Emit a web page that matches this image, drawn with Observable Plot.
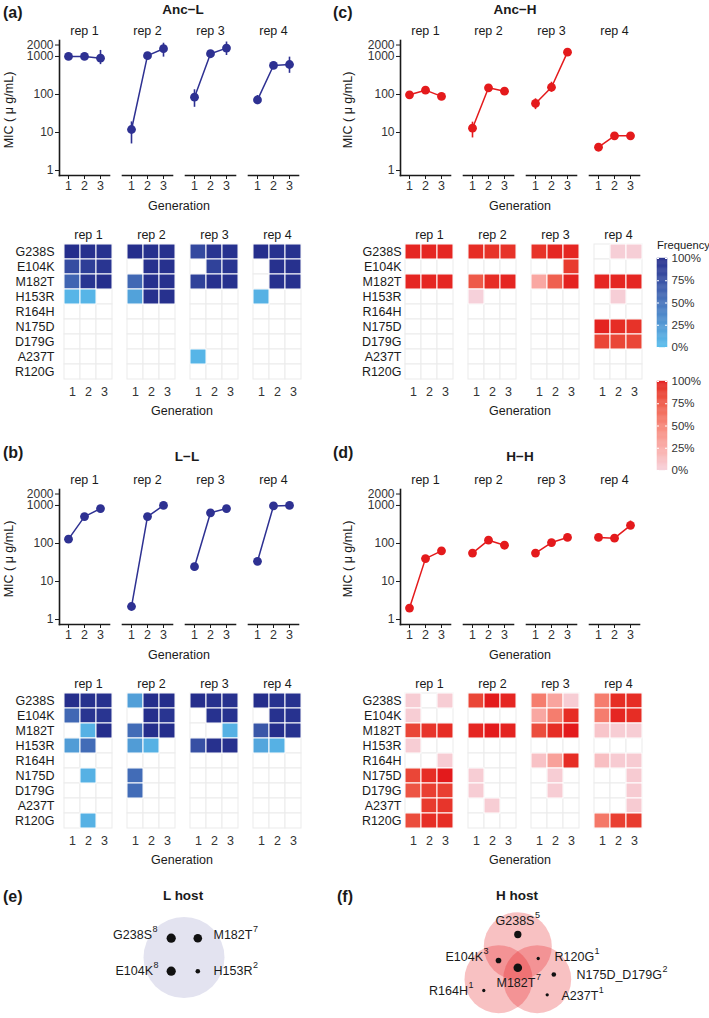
<!DOCTYPE html>
<html><head><meta charset="utf-8">
<script src="https://cdn.jsdelivr.net/npm/d3@7"></script>
<script src="https://cdn.jsdelivr.net/npm/@observablehq/plot@0.6"></script>
<style>
body{margin:0;background:#fff;}
#root{position:relative;width:709px;height:1018px;font-family:"Liberation Sans",Arial,sans-serif;color:#1a1a1a;overflow:hidden;background:#fff}
</style></head><body><div id="root"></div>
<script>
const _ = null;
const reps = ["rep 1","rep 2","rep 3","rep 4"];
const gens = [1,2,3];
const mutations = ["G238S","E104K","M182T","H153R","R164H","N175D","D179G","A237T","R120G"];

// MIC values [rep][generation]
const micAncL   = [[1000,1000,900],[12,1050,1600],[85,1180,1660],[72,580,615]];
const micAncLLo = [[_,_,610],[5,_,960],[46,_,1060],[54,470,360]];
const micAncLHi = [[_,_,1440],[19,_,2230],[133,_,2400],[94,700,960]];
const micAncH   = [[98,130,89],[13,150,122],[58,155,1300],[4.1,8.2,8.2]];
const micAncHLo = [[_,112,_],[7.2,_,_],[40,115,_],[_,_,_]];
const micAncHHi = [[_,148,_],[18.7,_,_],[77,210,_],[_,_,_]];
const micLL     = [[130,510,830],[2.2,510,1000],[24.5,640,830],[34,970,1000]];
const micLLLo   = [[_,_,_],[_,_,_],[19,_,_],[_,_,_]];
const micLLHi   = [[_,_,_],[_,_,_],[30,_,_],[_,_,_]];
const micHH     = [[2,40,64],[56,122,90],[56,106,144],[144,138,300]];
const micHHLo   = [[_,_,_],[_,_,_],[_,_,_],[_,_,235]];
const micHHHi   = [[_,_,_],[_,_,_],[_,_,_],[_,_,390]];

// mutation frequency (%) [rep][mutation][generation]; null = not detected
const freqAncL = [
 [[100,98,97],[78,88,95],[60,95,100],[5,5,_],[_,_,_],[_,_,_],[_,_,_],[_,_,_],[_,_,_]],
 [[100,98,98],[_,98,98],[58,98,98],[18,98,98],[_,_,_],[_,_,_],[_,_,_],[_,_,_],[_,_,_]],
 [[80,95,97],[_,85,95],[85,98,98],[_,_,_],[_,_,_],[_,_,_],[_,_,_],[5,_,_],[_,_,_]],
 [[100,97,97],[_,98,98],[_,98,98],[8,_,_],[_,_,_],[_,_,_],[_,_,_],[_,_,_],[_,_,_]]
];
const freqAncH = [
 [[97,97,97],[_,_,_],[97,97,97],[_,_,_],[_,_,_],[_,_,_],[_,_,_],[_,_,_],[_,_,_]],
 [[95,93,93],[_,_,_],[75,95,97],[0,_,_],[_,_,_],[_,_,_],[_,_,_],[_,_,_],[_,_,_]],
 [[93,97,97],[_,_,90],[28,72,98],[_,_,_],[_,_,_],[_,_,_],[_,_,_],[_,_,_],[_,_,_]],
 [[_,2,2],[_,_,_],[97,97,97],[_,2,_],[_,_,_],[98,95,93],[85,85,85],[_,_,_],[_,_,_]]
];
const freqLL = [
 [[100,98,98],[58,95,95],[_,8,100],[22,55,_],[_,_,_],[_,8,_],[_,_,_],[_,_,_],[_,8,_]],
 [[20,100,100],[_,100,95],[55,100,100],[22,8,_],[_,_,_],[55,_,_],[55,_,_],[_,_,_],[_,_,_]],
 [[100,98,98],[_,97,97],[_,_,8],[75,98,98],[_,_,_],[_,_,_],[_,_,_],[_,_,_],[_,_,_]],
 [[100,97,97],[_,97,97],[70,100,97],[15,8,_],[_,_,_],[_,_,_],[_,_,_],[_,_,_],[_,_,_]]
];
const freqHH = [
 [[3,_,3],[3,_,_],[85,92,95],[3,_,_],[_,_,3],[85,95,100],[78,88,88],[_,90,92],[82,95,95]],
 [[85,100,97],[_,_,_],[97,100,98],[_,_,_],[_,_,_],[3,_,_],[3,_,_],[_,3,_],[_,_,_]],
 [[55,30,3],[28,55,95],[82,95,100],[_,_,_],[10,32,95],[_,3,_],[_,3,_],[_,_,_],[_,_,_]],
 [[55,95,95],[55,97,95],[8,3,3],[_,_,_],[12,4,4],[_,_,4],[_,_,4],[_,_,4],[58,88,90]]
];

// shared-mutation counts (number of lines)
const lHostMut = ["G238S","M182T","E104K","H153R"];
const lHostCount = [8,7,8,2];
const hHostMut = ["G238S","E104K","R120G","M182T","N175D_D179G","R164H","A237T"];
const hHostCount = [5,3,1,7,2,1,1];
const legendTicks = [0,25,50,75,100];

// ---------------- styling / layout ----------------
const BLUE = "#2E3192", RED = "#E41A1C";
const blueRange = ["#58BDEC","#252E8C"];
const redRange = ["#F6D1DA","#E31A1C"];
const FONT = "Liberation Sans, Arial, sans-serif";
const root = document.getElementById("root");
function place(el,left,top){el.style.position="absolute";el.style.left=left+"px";el.style.top=top+"px";root.appendChild(el);}
function label(text,x,y,o={}){
  const d=document.createElement("div");d.textContent=text;
  const a=o.anchor||"middle";
  const tx=a==="middle"?"-50%":a==="end"?"-100%":"0";
  d.style.cssText=`position:absolute;left:${x}px;top:${y}px;font-size:${o.size||12.5}px;font-weight:${o.weight||"normal"};color:${o.color||"#1a1a1a"};white-space:nowrap;line-height:1;transform:translate(${tx},-50%) rotate(${o.rotate||0}deg);`;
  root.appendChild(d);
}
const baseStyle = {fontSize:"12.5px",fontFamily:FONT,color:"#1a1a1a",background:"transparent",overflow:"visible"};

function lineRows(v,lo,hi){const r=[];reps.forEach((rep,i)=>gens.forEach((g,j)=>r.push({rep,gen:g,mic:v[i][j],lo:lo[i][j],hi:hi[i][j]})));return r;}
function heatRows(f){const r=[];reps.forEach((rep,i)=>mutations.forEach((m,k)=>gens.forEach((g,j)=>r.push({rep,mut:m,gen:g,freq:f[i][k][j]}))));return r;}

function linePanel(v,lo,hi,color,left,top,mL,mR){
  const rows=lineRows(v,lo,hi);
  const p=Plot.plot({
    width:mL+241+mR,height:200,marginLeft:mL,marginRight:mR,marginTop:40,marginBottom:25,
    style:baseStyle,
    fx:{domain:reps,paddingInner:0.21,paddingOuter:0,label:null},
    x:{type:"point",domain:gens,padding:0.55,label:null},
    y:{type:"log",domain:[0.74,2630],label:null},
    marks:[
      Plot.axisFx({anchor:"top",tickSize:0,tickPadding:6,label:null,fontSize:12.5,fill:"#1a1a1a"}),
      Plot.axisY({ticks:[1,10,100,1000,2000],tickFormat:d=>String(d),tickSize:4,tickPadding:2,label:null,fontSize:12,fill:"#333"}),
      Plot.axisX({tickSize:4,tickPadding:2,label:null,fontSize:12.5,fill:"#333"}),
      Plot.frame({anchor:"bottom",strokeWidth:1.6,stroke:"#1a1a1a"}),
      Plot.frame({anchor:"left",strokeWidth:1.6,stroke:"#1a1a1a",facetAnchor:"left"}),
      Plot.ruleX(rows.filter(d=>d.lo!=null),{fx:"rep",x:"gen",y1:"lo",y2:"hi",stroke:color,strokeWidth:1.6}),
      Plot.line(rows,{fx:"rep",x:"gen",y:"mic",stroke:color,strokeWidth:1.5}),
      Plot.dot(rows,{fx:"rep",x:"gen",y:"mic",fill:color,r:4.4})
    ]});
  place(p,left,top);
}
function heatPanel(f,range,left,top,mL,mR,pad){
  const rows=heatRows(f);
  const p=Plot.plot({
    width:mL+241+mR,height:185,marginLeft:mL,marginRight:mR,marginTop:28,marginBottom:20,
    style:baseStyle,
    fx:{domain:reps,paddingInner:0.2,paddingOuter:0,label:null},
    x:{type:"band",domain:gens,padding:0,label:null},
    y:{type:"band",domain:mutations,padding:0,label:null},
    color:{type:"linear",domain:[0,100],range,interpolate:"lab"},
    marks:[
      Plot.cell(rows,{fx:"rep",x:"gen",y:"mut",fill:"white",stroke:"#ebebeb",strokeWidth:1,inset:0}),
      Plot.cell(rows.filter(d=>d.freq!=null),{fx:"rep",x:"gen",y:"mut",fill:"freq",stroke:"white",strokeWidth:1,inset:0}),
      Plot.axisFx({anchor:"top",tickSize:0,tickPadding:5,label:null,fontSize:12.5,fill:"#1a1a1a"}),
      Plot.axisY({tickSize:0,tickPadding:pad,label:null,fontSize:12.5,fill:"#1a1a1a"}),
      Plot.axisX({tickSize:0,tickPadding:7,label:null,fontSize:12.5,fill:"#333"})
    ]});
  place(p,left,top);
}
function colorbar(range,left,top){
  const steps=d3.range(0,100,1);
  const p=Plot.plot({
    width:59,height:105,marginLeft:7,marginRight:42,marginTop:8,marginBottom:8,
    style:baseStyle,
    x:{domain:[0,1],axis:null},
    y:{domain:[0,100],axis:null},
    color:{type:"linear",domain:[0,100],range,interpolate:"lab"},
    marks:[
      Plot.rect(steps,{x1:0,x2:1,y1:d=>d,y2:d=>d+1,fill:d=>d+0.5,stroke:d=>d+0.5,strokeWidth:0.4}),
      Plot.ruleY(legendTicks,{x1:0,x2:0.2,stroke:"white"}),
      Plot.ruleY(legendTicks,{x1:0.8,x2:1,stroke:"white"}),
      Plot.axisY({anchor:"right",ticks:legendTicks,tickFormat:d=>d+"%",tickSize:0,tickPadding:4,label:null,fontSize:11.5,fill:"#333"})
    ]});
  place(p,left,top);
}

// ---------------- panels ----------------
const D = 449; // vertical offset between rows of panels
linePanel(micAncL,micAncLLo,micAncLHi,BLUE,0,0,58,55);
linePanel(micAncH,micAncHLo,micAncHHi,RED,330,0,69,69);
heatPanel(freqAncL,blueRange,0,215,62,51,9);
heatPanel(freqAncH,redRange,330,215,73,65,3);
linePanel(micLL,micLLLo,micLLHi,BLUE,0,D,58,55);
linePanel(micHH,micHHLo,micHHHi,RED,330,D,69,69);
heatPanel(freqLL,blueRange,0,215+D,62,51,9);
heatPanel(freqHH,redRange,330,215+D,73,65,3);
colorbar(blueRange,650,250);
colorbar(redRange,650,373);

// texts
[["(a)",3,13],["(c)",333,13],["(b)",3,453],["(d)",333,453],["(e)",3,897],["(f)",337,897]]
  .forEach(([t,x,y])=>label(t,x,y,{anchor:"start",weight:"bold",size:16}));
[["Anc\u2212L",183,10],["Anc\u2212H",515,10],["L\u2212L",187,457],["H\u2212H",520,457],["L host",183,896],["H host",517,896]]
  .forEach(([t,x,y])=>label(t,x,y,{weight:"bold",size:13.5}));
[[179,206],[520,206],[182,411],[520,411],[179,206+D],[520,206+D],[182,411+D],[520,411+D]]
  .forEach(([x,y])=>label("Generation",x,y,{color:"#1a1a1a"}));
[[9,110],[348,110],[9,110+D],[348,110+D]]
  .forEach(([x,y])=>label("MIC ( \u03bc g/mL)",x,y,{rotate:-90}));
label("Frequency",657,246,{anchor:"start",size:11.2});

// ---------------- Venn diagrams (e), (f) ----------------
// layout: dot position and label position/anchor for each mutation
const vennLayout = {
  G238S_L:{x:170.7,y:937.7,lx:157,ly:934,a:"end"},
  M182T_L:{x:197.3,y:937.7,lx:213,ly:934,a:"start"},
  E104K_L:{x:170.7,y:970.7,lx:158,ly:970,a:"end"},
  H153R_L:{x:197.3,y:970.7,lx:213,ly:970,a:"start"},
  G238S_H:{x:517.3,y:934,lx:517,ly:920,a:"middle"},
  E104K_H:{x:498,y:960,lx:488,ly:956,a:"end"},
  R120G_H:{x:537.7,y:958,lx:554,ly:956,a:"start"},
  M182T_H:{x:517.3,y:967.3,lx:496,ly:982,a:"start"},
  N175D_D179G_H:{x:553.3,y:974,lx:576,ly:974,a:"start"},
  R164H_H:{x:483.3,y:990,lx:473,ly:990,a:"end"},
  A237T_H:{x:546.7,y:994.3,lx:561,ly:995,a:"start"}
};
const vennCircles = [
  {x:183.5,y:957,r:40.5,fill:"#E3E3F0",o:1},
  {x:517.3,y:945.7,r:34,fill:RED,o:0.27},
  {x:498,y:978.7,r:34,fill:RED,o:0.27},
  {x:536.7,y:978.7,r:34,fill:RED,o:0.27}
];
const ctx = document.createElement("canvas").getContext("2d");
const NAME_SIZE = 12.5, SUP_SIZE = 9;
function textW(t,s){ctx.font=`${s}px "Liberation Sans", Arial, sans-serif`;return ctx.measureText(t).width;}
const vennRows = [
  ...lHostMut.map((m,i)=>({name:m,count:lHostCount[i],...vennLayout[m+"_L"]})),
  ...hHostMut.map((m,i)=>({name:m,count:hHostCount[i],...vennLayout[m+"_H"]}))
].map(d=>{
  const nw=textW(d.name,NAME_SIZE), sw=textW(String(d.count),SUP_SIZE);
  const start = d.a==="start"?d.lx:d.a==="end"?d.lx-nw-sw-0.5:d.lx-(nw+sw)/2;
  return {...d,nx:start,sx:start+nw+0.5};
});
const vtop = 875, vh = 143;
const venn = Plot.plot({
  width:709,height:vh,margin:0,style:baseStyle,
  x:{domain:[0,709],axis:null},
  y:{domain:[vtop+vh,vtop],axis:null},
  r:{type:"sqrt",domain:[0,8],range:[0,4.6]},
  marks:[
    ...vennCircles.map(c=>Plot.dot([c],{x:"x",y:"y",r:c.r,fill:c.fill,fillOpacity:c.o,stroke:null})),
    Plot.dot(vennRows,{x:"x",y:"y",r:"count",fill:"#111"}),
    Plot.text(vennRows,{x:"nx",y:"ly",text:"name",textAnchor:"start",fontSize:NAME_SIZE,fill:"#1a1a1a"}),
    Plot.text(vennRows,{x:"sx",y:"ly",text:d=>String(d.count),textAnchor:"start",fontSize:SUP_SIZE,dy:-5.5,fill:"#1a1a1a"})
  ]});
place(venn,0,vtop);
</script></body></html>
